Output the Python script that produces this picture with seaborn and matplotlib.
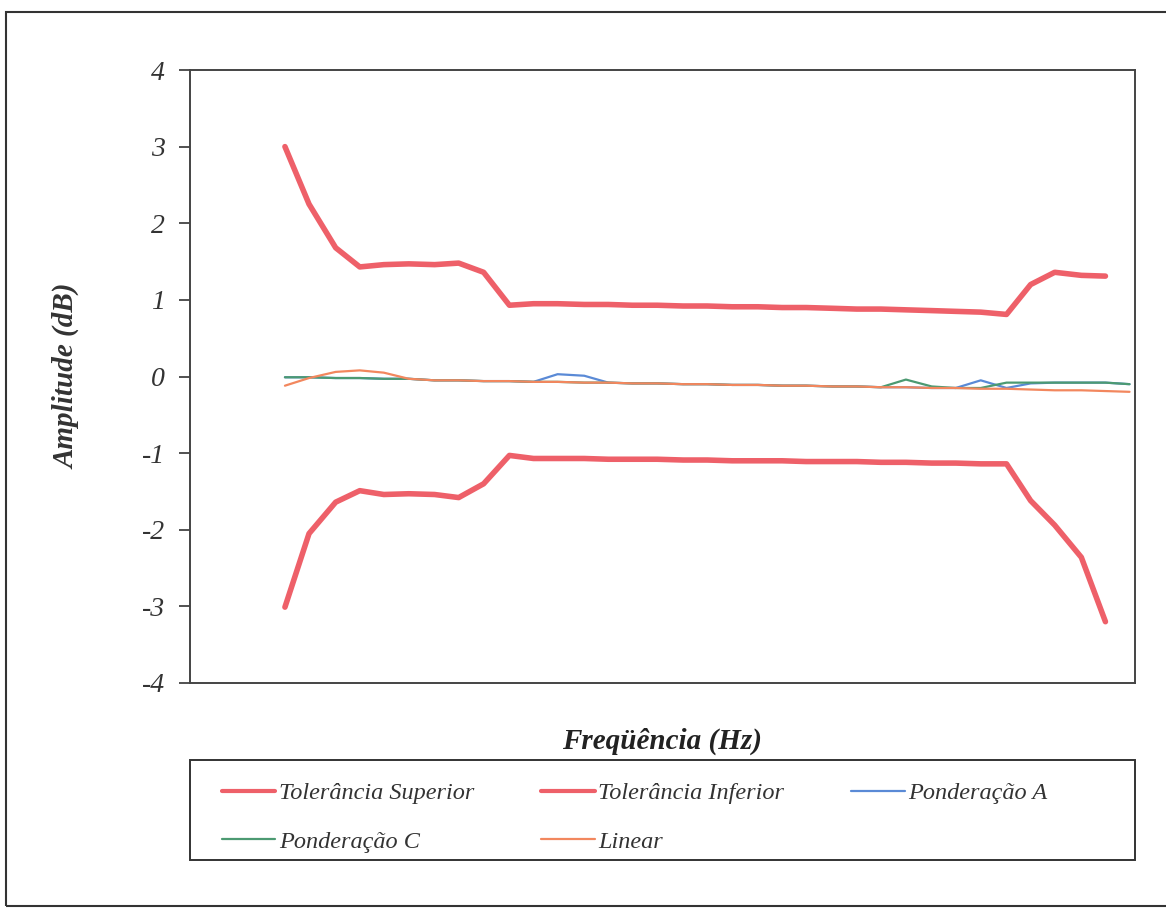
import matplotlib
matplotlib.use("Agg")
import matplotlib.pyplot as plt
import seaborn as sns
import pandas as pd
from matplotlib.patches import Rectangle

# One-third-octave band centres (Hz)
freq_tol = [10, 12.5, 16, 20, 25, 31.5, 40, 50, 63, 80, 100, 125, 160, 200, 250,
            315, 400, 500, 630, 800, 1000, 1250, 1600, 2000, 2500, 3150, 4000,
            5000, 6300, 8000, 10000, 12500, 16000, 20000]
freq_pond = freq_tol + [25000]

# Tolerance limits (dB)
tol_sup = [3.00, 2.25, 1.68, 1.43, 1.46, 1.47, 1.46, 1.48, 1.36, 0.93, 0.95, 0.95,
           0.94, 0.94, 0.93, 0.93, 0.92, 0.92, 0.91, 0.91, 0.90, 0.90, 0.89, 0.88,
           0.88, 0.87, 0.86, 0.85, 0.84, 0.81, 1.20, 1.36, 1.32, 1.31]
tol_inf = [-3.01, -2.05, -1.64, -1.49, -1.54, -1.53, -1.54, -1.58, -1.40, -1.03,
           -1.07, -1.07, -1.07, -1.08, -1.08, -1.08, -1.09, -1.09, -1.10, -1.10,
           -1.10, -1.11, -1.11, -1.11, -1.12, -1.12, -1.13, -1.13, -1.14, -1.14,
           -1.62, -1.94, -2.36, -3.20]

# Measured responses (dB)
pond_a = [-0.01, -0.01, -0.02, -0.02, -0.03, -0.03, -0.05, -0.05, -0.06, -0.06,
          -0.07, 0.03, 0.01, -0.08, -0.09, -0.09, -0.10, -0.10, -0.11, -0.11,
          -0.12, -0.12, -0.13, -0.13, -0.14, -0.14, -0.15, -0.15, -0.05, -0.15,
          -0.09, -0.08, -0.08, -0.08, -0.10]
pond_c = [-0.01, -0.01, -0.02, -0.02, -0.03, -0.03, -0.05, -0.05, -0.06, -0.06,
          -0.07, -0.07, -0.08, -0.08, -0.09, -0.09, -0.10, -0.10, -0.11, -0.11,
          -0.12, -0.12, -0.13, -0.13, -0.14, -0.04, -0.13, -0.15, -0.15, -0.08,
          -0.08, -0.08, -0.08, -0.08, -0.10]
linear = [-0.12, -0.02, 0.06, 0.08, 0.05, -0.03, -0.05, -0.05, -0.06, -0.06,
          -0.07, -0.07, -0.08, -0.08, -0.09, -0.09, -0.10, -0.10, -0.11, -0.11,
          -0.12, -0.12, -0.13, -0.13, -0.14, -0.14, -0.15, -0.15, -0.16, -0.16,
          -0.17, -0.18, -0.18, -0.19, -0.20]

y_ticks = [-4, -3, -2, -1, 0, 1, 2, 3, 4]

series = [
    ("Tolerância Superior", freq_tol, tol_sup, "#EE6069", 4.0),
    ("Tolerância Inferior", freq_tol, tol_inf, "#EE6069", 4.0),
    ("Ponderação A", freq_pond, pond_a, "#5A8AD6", 1.6),
    ("Ponderação C", freq_pond, pond_c, "#4C9A72", 1.6),
    ("Linear", freq_pond, linear, "#F2875E", 1.6),
]

W, H = 1166, 914

sns.set_theme(style="white")
plt.rcParams["font.family"] = ["Liberation Serif", "DejaVu Serif"]
plt.rcParams["axes.unicode_minus"] = False

fig = plt.figure(figsize=(W / 100, H / 100), dpi=100)
ax = fig.add_axes([190 / W, 1 - 683 / H, 945 / W, 613 / H])

for name, fx, fy, color, lw in series:
    df = pd.DataFrame({"Frequência": fx, "Amplitude": fy})
    sns.lineplot(data=df, x="Frequência", y="Amplitude", ax=ax, color=color,
                 linewidth=lw, label=name, legend=False, sort=False)

ax.set_xscale("log")
ax.set_xlim(4.15, 26300)
ax.set_ylim(-4, 4)
ax.set_xticks([])
ax.minorticks_off()
ax.set_yticks(y_ticks)
ax.set_yticklabels([str(t) for t in y_ticks], fontstyle="italic", fontsize=20,
                   color="#333333")
ax.tick_params(axis="y", which="major", left=True, length=8, width=1.2,
               color="#333333", pad=10, direction="out")

for s in ax.spines.values():
    s.set_color("#444444")
    s.set_linewidth(1.4)

ax.set_ylabel("Amplitude (dB)", fontsize=21, fontweight="bold",
              fontstyle="italic", color="#333333", labelpad=44)
ax.set_xlabel("Freqüência (Hz)", fontsize=21, fontweight="bold",
              fontstyle="italic", color="#222222", labelpad=32)

# Legend box spanning the plot width
fig.patches.append(Rectangle((190 / W, 1 - 860 / H), 945 / W, 100 / H,
                             transform=fig.transFigure, fill=True,
                             facecolor="white", edgecolor="#333333",
                             linewidth=1.4, zorder=1))

# Legend entries filled row by row, three per row
handles, labels = ax.get_legend_handles_labels()
order = [0, 3, 1, 4, 2]
leg = fig.legend([handles[i] for i in order], [labels[i] for i in order],
                 loc="upper left", bbox_to_anchor=(222 / W, 1 - 782 / H),
                 ncol=3, frameon=False, borderaxespad=0.0, borderpad=0.0,
                 handlelength=2.2, handletextpad=0.15, columnspacing=2.75,
                 labelspacing=1.1, prop={"style": "italic", "size": 17.5})
leg.set_zorder(2)
for t in leg.get_texts():
    t.set_color("#333333")
for h in leg.legend_handles[:3:2]:
    h.set_linewidth(3.0)

# Page border around the figure
fig.patches.append(Rectangle((6 / W, 1 - 906 / H), 1.2, 894 / H,
                             transform=fig.transFigure, fill=False,
                             edgecolor="#333333", linewidth=1.5))

fig.savefig("out.png", dpi=100, facecolor="white")
